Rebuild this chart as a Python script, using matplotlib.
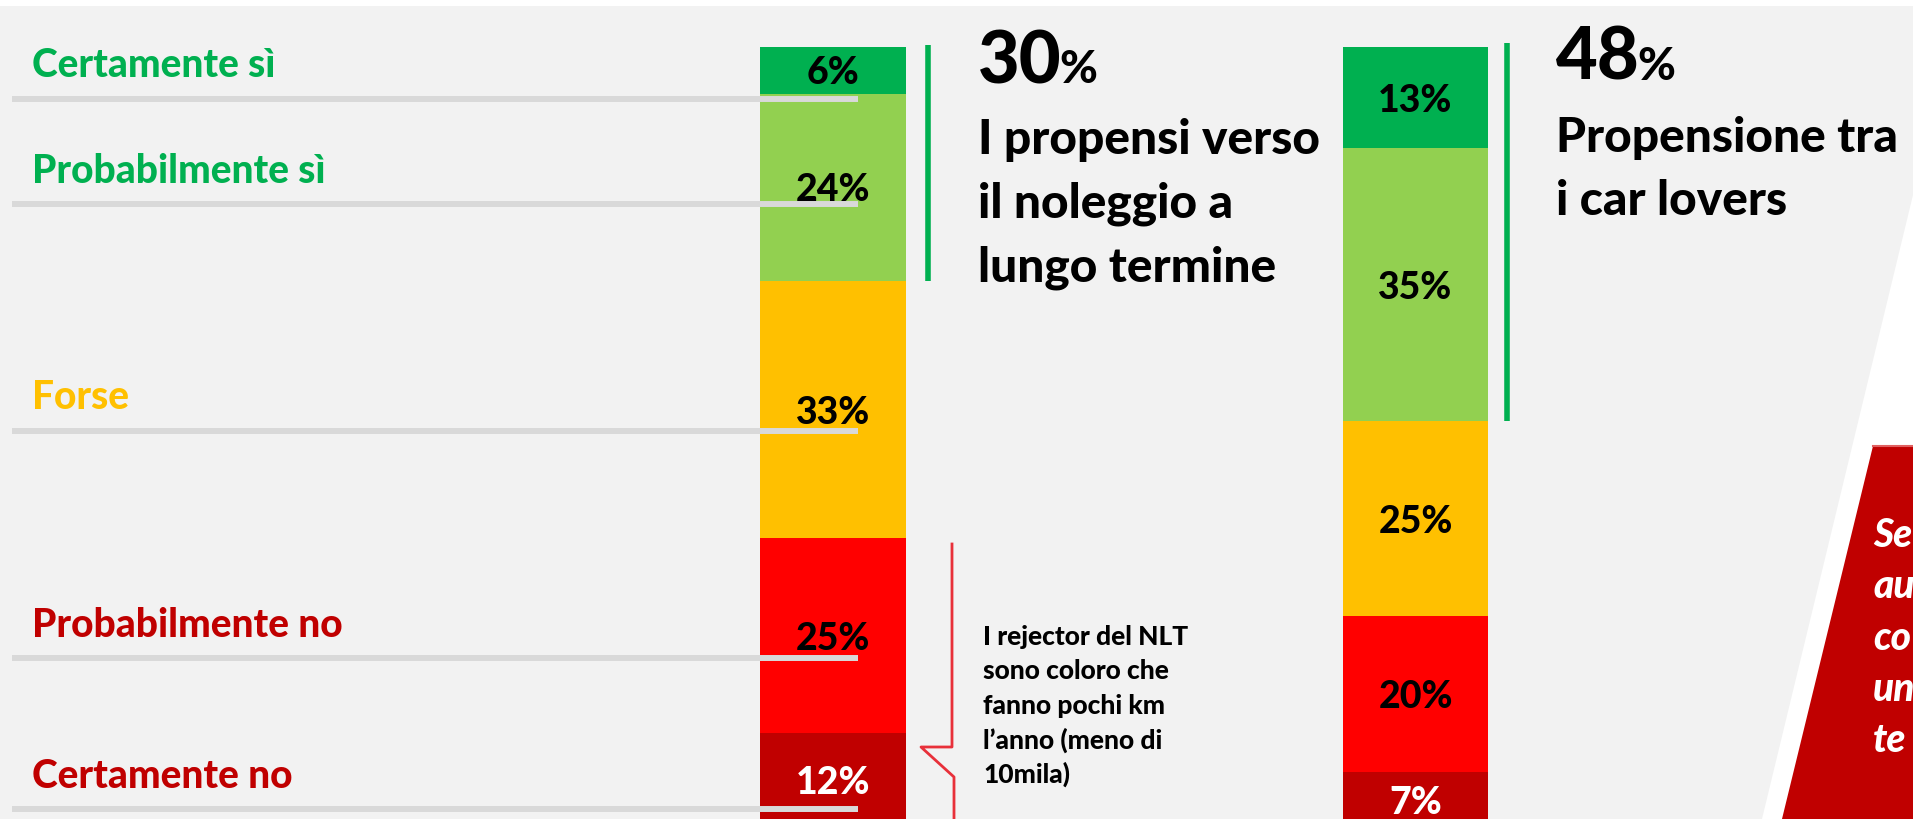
import matplotlib.pyplot as plt
from matplotlib.patches import Polygon, Rectangle

plt.rcParams['font.family'] = ['Lato', 'DejaVu Sans']

# risposte (dall'alto in basso) e percentuali delle due barre
risposte = ['Certamente sì', 'Probabilmente sì', 'Forse', 'Probabilmente no', 'Certamente no']
totale = [6, 24, 33, 25, 12]
car_lovers = [13, 35, 25, 20, 7]

colori = ['#00B050', '#92D050', '#FFC000', '#FF0000', '#C00000']
colori_label = ['#00B050', '#00B050', '#FFC000', '#C00000', '#C00000']
colori_pct = ['black', 'black', 'black', 'black', 'white']

W, H = 1913, 819
fig = plt.figure(figsize=(W / 100, H / 100), dpi=100)
fig.patch.set_facecolor('white')

# sfondo e forme decorative, in pixel
bg = fig.add_axes([0, 0, 1, 1])
bg.set_xlim(0, W)
bg.set_ylim(H, 0)
bg.axis('off')
bg.add_patch(Rectangle((0, 6), W, H - 6, color='#F2F2F2', lw=0))
bg.add_patch(Polygon([(1913, 195), (1762, 819), (1913, 819)], color='white', lw=0))
bg.add_patch(Polygon([(1873, 446), (1913, 446), (1913, 819), (1782, 819)], color='#C00000', lw=0))
bg.plot([1873, 1913], [446, 446], color='#E06060', lw=1.5)

# barre in percentuale: 0% in alto a y=47px, 7.8 px per punto
ax = fig.add_axes([0, 0, 1, 1], facecolor='none')
ax.set_xlim(0, W)
ax.set_ylim((H - 47) / 7.8, -47 / 7.8)
ax.axis('off')

for xc, wd, serie in [(833, 146, totale), (1415.5, 145, car_lovers)]:
    base = 0
    for v, c, tc in zip(serie, colori, colori_pct):
        ax.bar(xc, v, bottom=base, width=wd, color=c, lw=0)
        ax.text(xc, base + v / 2, f'{v}%', ha='center', va='center_baseline',
                fontsize=27, fontweight='black', color=tc)
        base += v

# linee verdi che marcano i propensi
prop_tot = sum(totale[:2])
prop_cl = sum(car_lovers[:2])
ax.plot([928, 928], [-0.2, prop_tot], color='#00B050', lw=4, solid_capstyle='butt')
ax.plot([1507, 1507], [-0.5, prop_cl], color='#00B050', lw=4, solid_capstyle='butt')

# primo piano: etichette, righe grigie, testi
fg = fig.add_axes([0, 0, 1, 1], facecolor='none')
fg.set_xlim(0, W)
fg.set_ylim(H, 0)
fg.axis('off')

label_y = [77, 183, 409, 637, 788]
riga_y = [99, 204, 431, 658, 809]
for r, c, ly, ry in zip(risposte, colori_label, label_y, riga_y):
    fg.text(32, ly, r, color=c, fontsize=28, fontweight='black', va='baseline')
    fg.plot([12, 858], [ry, ry], color='#D9D9D9', lw=4.3, solid_capstyle='butt')

fig.canvas.draw()
rend = fig.canvas.get_renderer()


def grande(x, y, numero):
    t = fg.text(x, y, f'{numero}', fontsize=52, fontweight='black', va='baseline')
    x1 = t.get_window_extent(rend).x1
    fg.text(x1 - 2, y, '%', fontsize=33, fontweight='black', va='baseline')


grande(978, 83, prop_tot)
for t, y in zip(['I propensi verso', 'il noleggio a', 'lungo termine'], [154, 218, 282]):
    fg.text(978, y, t, fontsize=34.5, fontweight='black', va='baseline')

grande(1556, 80, prop_cl)
for t, y in zip(['Propensione tra', 'i car lovers'], [152, 215]):
    fg.text(1556, y, t, fontsize=34.5, fontweight='black', va='baseline')

# parentesi rossa e nota sui rejector
fg.plot([952, 952, 921, 954, 954], [544, 747, 747, 777, 830], color='#E8303A', lw=2)
nota = ['I rejector del NLT', 'sono coloro che', 'fanno pochi km', 'l\u2019anno (meno di', '10mila)']
for t, y in zip(nota, [645, 679, 714, 749, 783]):
    fg.text(983, y, t, fontsize=19, fontweight='black', va='baseline')

# testo nel riquadro rosso (tagliato dal bordo)
box = ['Se', 'au', 'co', 'un', 'te']
for t, y in zip(box, [547, 598, 650, 701, 752]):
    fg.text(1873, y, t, fontsize=28, fontweight='black', fontstyle='italic',
            color='white', va='baseline')

fig.savefig('out.png', dpi=100)
